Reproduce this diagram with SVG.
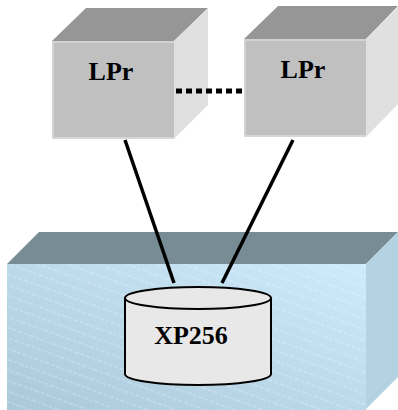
<svg xmlns="http://www.w3.org/2000/svg" width="398" height="410" viewBox="0 0 398 410">
  <defs>
    <linearGradient id="boxGrad" x1="1" y1="0" x2="0" y2="1">
      <stop offset="0" stop-color="#cdebfb"/>
      <stop offset="1" stop-color="#aac8d9"/>
    </linearGradient>
    <pattern id="stripes" width="12" height="10" patternUnits="userSpaceOnUse" patternTransform="rotate(20)">
      <line x1="0" y1="5" x2="12" y2="5" stroke="#ffffff" stroke-opacity="0.5" stroke-width="0.8" stroke-dasharray="3 2"/>
    </pattern>
    <style>
      .top { fill: #969696; }
      .front { fill: #c0c0c0; }
      .side { fill: #e0e0e0; }
      .bevel { fill: none; stroke: #d2d2d2; stroke-width: 2; }
      .lbl { font-family: "Liberation Serif", "Times New Roman", serif; font-weight: bold; fill: #000; }
      .conn { stroke: #000; stroke-width: 3.5; fill: none; }
    </style>
  </defs>

  <g id="storage-box">
    <polygon points="7,264 39,232 398,232 366,264" fill="#788c96"/>
    <polygon points="366,264 398,232 398,377 366,409" fill="#b4d2e2"/>
    <rect x="7" y="264" width="359" height="146" fill="url(#boxGrad)"/>
    <rect x="7" y="264" width="359" height="146" fill="url(#stripes)"/>
  </g>

  <g id="lpr-left">
    <polygon class="top" points="52,41 86,8 208,8 174,41"/>
    <polygon class="side" points="174,41 208,8 208,105 174,139"/>
    <rect class="front" x="52" y="41" width="122" height="98"/>
    <polyline class="bevel" points="53,139 53,42 174,42"/>
    <line x1="52" y1="138" x2="174" y2="138" stroke="#d6d6d6" stroke-width="2"/>
    <text class="lbl" x="111" y="80" font-size="26" text-anchor="middle">LPr</text>
  </g>

  <g id="lpr-right">
    <polygon class="top" points="244,39 278,6 398,6 366,39"/>
    <polygon class="side" points="366,39 398,7 398,104 366,137"/>
    <rect class="front" x="244" y="39" width="122" height="98"/>
    <polyline class="bevel" points="245,137 245,40 366,40"/>
    <line x1="244" y1="136" x2="366" y2="136" stroke="#d6d6d6" stroke-width="2"/>
    <text class="lbl" x="303" y="78" font-size="26" text-anchor="middle">LPr</text>
  </g>

  <g id="connectors">
    <line x1="176" y1="91" x2="244" y2="91" stroke="#000" stroke-width="5" stroke-dasharray="6 4"/>
    <line class="conn" x1="125" y1="140" x2="174" y2="283"/>
    <line class="conn" x1="293" y1="140" x2="222" y2="283"/>
  </g>

  <g id="xp256">
    <path d="M125,298 L125,374 A73,11 0 0 0 271,374 L271,298" fill="#e8e8e8" stroke="#000" stroke-width="2"/>
    <ellipse cx="198" cy="298" rx="73" ry="11" fill="#e8e8e8" stroke="#000" stroke-width="2"/>
    <text class="lbl" x="191" y="344" font-size="26" text-anchor="middle">XP256</text>
  </g>
</svg>
